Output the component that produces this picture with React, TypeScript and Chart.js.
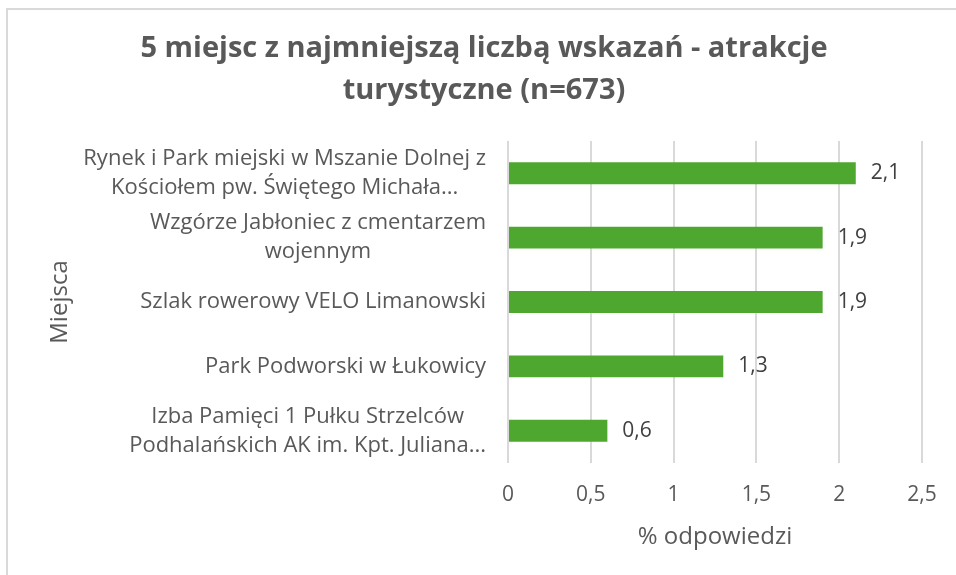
import { useEffect, useRef } from 'react';
import { Chart, registerables } from 'chart.js';

Chart.register(...registerables);

const titleLines = ['5 miejsc z najmniejszą liczbą wskazań - atrakcje', 'turystyczne (n=673)'];
const categories: string[][] = [
  ['Rynek i Park miejski w Mszanie Dolnej z', 'Kościołem pw. Świętego Michała...'],
  ['Wzgórze Jabłoniec z cmentarzem', 'wojennym'],
  ['Szlak rowerowy VELO Limanowski'],
  ['Park Podworski w Łukowicy'],
  ['Izba Pamięci 1 Pułku Strzelców', 'Podhalańskich AK im. Kpt. Juliana...'],
];
const values = [2.1, 1.9, 1.9, 1.3, 0.6];
const xMin = 0;
const xMax = 2.5;
const xStep = 0.5;
const xTitle = '% odpowiedzi';
const yTitle = 'Miejsca';

const FONT = "'Open Sans', 'Liberation Sans', sans-serif";
const TEXT = '#595959';
const BAR = '#4EA72E';

const fmt = (v: number) => String(v).replace('.', ',');

const labelsPlugin = {
  id: 'customLabels',
  afterDatasetsDraw(chart: any) {
    const { ctx, chartArea } = chart;
    const yScale = chart.scales.y;
    ctx.save();
    ctx.font = `22px ${FONT}`;
    ctx.fillStyle = TEXT;
    ctx.textBaseline = 'middle';
    ctx.textAlign = 'center';
    categories.forEach((lines, i) => {
      const cy = yScale.getPixelForValue(i);
      const w = Math.max(...lines.map((l) => ctx.measureText(l).width));
      const cx = chartArea.left - 22 - w / 2;
      lines.forEach((l, j) => {
        ctx.fillText(l, cx, cy + (j - (lines.length - 1) / 2) * 29);
      });
    });
    const meta = chart.getDatasetMeta(0);
    ctx.font = `21px ${FONT}`;
    ctx.fillStyle = '#404040';
    ctx.textAlign = 'left';
    meta.data.forEach((bar: any, i: number) => {
      ctx.fillText(fmt(values[i]), bar.x + 15, bar.y);
    });
    ctx.restore();
  },
};

export default function App() {
  const ref = useRef<HTMLCanvasElement | null>(null);

  useEffect(() => {
    if (!ref.current) return;
    const chart = new Chart(ref.current, {
      type: 'bar',
      data: {
        labels: categories.map((c) => c.join(' ')),
        datasets: [
          {
            data: values,
            backgroundColor: BAR,
            borderWidth: 0,
            categoryPercentage: 1,
            barPercentage: 0.34,
          },
        ],
      },
      options: {
        indexAxis: 'y',
        responsive: false,
        animation: false,
        devicePixelRatio: 1,
        layout: { padding: { left: 46, right: 34, top: 0, bottom: 0 } },
        plugins: {
          legend: { display: false },
          tooltip: { enabled: false },
          title: {
            display: true,
            text: titleLines,
            color: TEXT,
            font: { family: FONT, size: 29, weight: 'bold', lineHeight: 42 / 29 },
            padding: { top: 28, bottom: 29 },
          },
        },
        scales: {
          x: {
            type: 'linear',
            min: xMin,
            max: xMax,
            ticks: {
              stepSize: xStep,
              color: TEXT,
              font: { family: FONT, size: 21 },
              padding: 19,
              callback: (v: any) => fmt(Number(v)),
            },
            grid: { color: '#d9d9d9', lineWidth: 2, drawTicks: false },
            border: { display: false },
            title: {
              display: true,
              text: xTitle,
              color: TEXT,
              font: { family: FONT, size: 24 },
              padding: { top: -3.6, bottom: 23.6 },
            },
          },
          y: {
            type: 'category',
            ticks: { display: false },
            grid: { display: false },
            border: { display: false },
            title: {
              display: true,
              text: yTitle,
              color: TEXT,
              font: { family: FONT, size: 24 },
              padding: 0,
            },
            afterFit: (scale: any) => {
              scale.width = 508 - 46;
            },
          },
        },
      },
      plugins: [labelsPlugin],
    });
    return () => chart.destroy();
  }, []);

  return (
    <div style={{ position: 'fixed', left: 0, top: 0, width: 956, height: 575, background: '#fff' }}>
      <div
        style={{
          position: 'absolute',
          left: 6,
          top: 8,
          width: 950,
          height: 567,
          borderTop: '2px solid #d9d9d9',
          borderLeft: '2px solid #d9d9d9',
          boxSizing: 'border-box',
        }}
      />
      <canvas ref={ref} width={956} height={575} style={{ position: 'absolute', left: 0, top: 0 }} />
    </div>
  );
}
